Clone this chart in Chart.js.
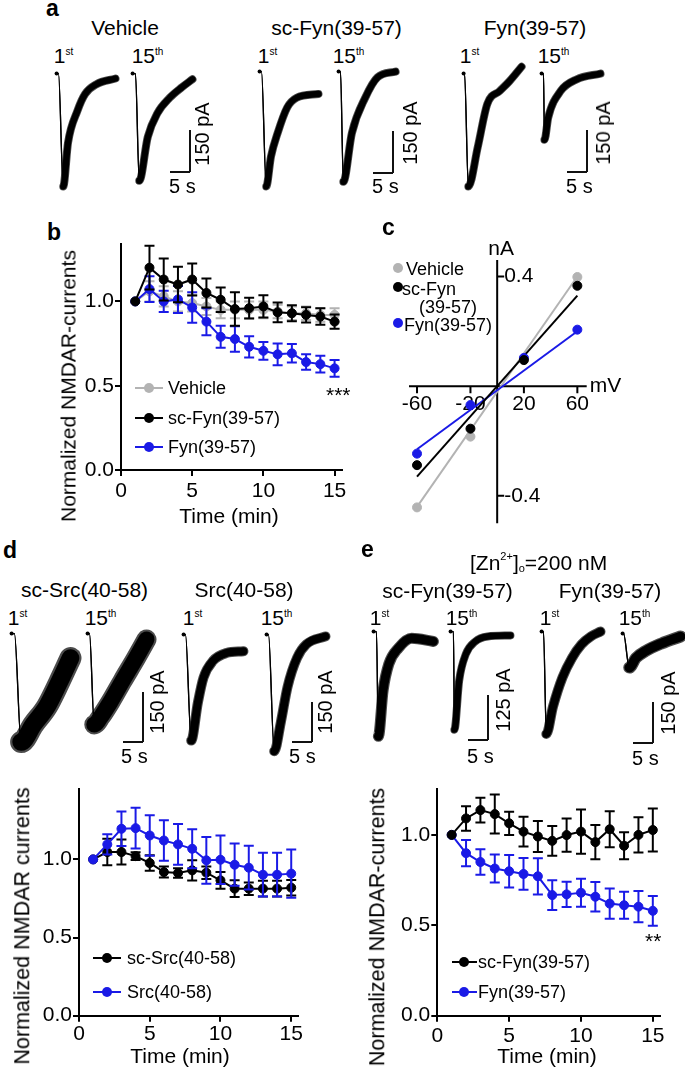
<!DOCTYPE html>
<html><head><meta charset="utf-8"><title>NMDAR currents</title>
<script src="https://cdn.jsdelivr.net/npm/chart.js@4.4.1/dist/chart.umd.min.js"></script>
<style>
html,body{margin:0;padding:0;background:#fff}
body{position:relative;width:685px;height:1072px;overflow:hidden;font-family:"Liberation Sans",Arial,Helvetica,sans-serif;color:#000}
.t{position:absolute;white-space:nowrap}
.sb{position:absolute;background:#111}
.lg{position:absolute}
canvas{position:absolute}
</style></head><body>
<script>
// ---------------- DATA ----------------
const timeMin = [1,2,3,4,5,6,7,8,9,10,11,12,13,14,15];
const timeTicks = [0,5,10,15];
const normTicks = [0,0.5,1.0];

// panel b
const bVehicle    = [1.0,1.06,1.03,1.0,0.99,0.97,0.95,0.95,0.95,0.95,0.94,0.93,0.93,0.92,0.92];
const bVehicleErr = [0,0.06,0.06,0.06,0.05,0.05,0.05,0.05,0.05,0.05,0.04,0.04,0.04,0.04,0.04];
const bScFyn      = [1.0,1.20,1.13,1.10,1.13,1.05,1.01,0.955,0.96,0.97,0.935,0.93,0.92,0.91,0.88];
const bScFynErr   = [0,0.13,0.125,0.105,0.095,0.086,0.073,0.10,0.062,0.066,0.059,0.047,0.045,0.049,0.042];
const bFyn        = [1.0,1.073,1.0,1.012,0.964,0.88,0.79,0.777,0.731,0.707,0.686,0.692,0.64,0.628,0.603];
const bFynErr     = [0,0.077,0.063,0.08,0.09,0.08,0.065,0.075,0.063,0.053,0.065,0.055,0.046,0.05,0.05];

// panel c (I-V)
const cVoltage   = [-60,-20,20,60];
const cVehicle   = [-0.442,-0.184,0.10,0.398];
const cScFyn     = [-0.288,-0.155,0.095,0.366];
const cFyn       = [-0.246,-0.069,0.103,0.206];
const cFitVoltage  = [-60,60];
const cVehicleFit  = [-0.44,0.40];
const cScFynFit    = [-0.33,0.33];
const cFynFit      = [-0.23,0.20];
const cXTicks = [-60,-20,20,60];
const cYTicks = [-0.4,0.4];

// panel d
const dScSrc    = [1.0,1.047,1.047,1.021,0.977,0.919,0.913,0.93,0.915,0.866,0.813,0.813,0.813,0.813,0.819];
const dScSrcErr = [0,0.085,0.08,0.025,0.05,0.035,0.03,0.065,0.04,0.053,0.053,0.04,0.05,0.05,0.05];
const dSrc      = [1.0,1.096,1.196,1.2,1.153,1.121,1.096,1.068,0.994,0.998,0.966,0.947,0.902,0.902,0.909];
const dSrcErr   = [0,0.065,0.11,0.13,0.13,0.13,0.13,0.125,0.15,0.155,0.135,0.14,0.14,0.14,0.155];

// panel e
const eScFyn    = [1.0,1.091,1.137,1.115,1.064,1.018,0.991,0.967,0.999,1.018,0.96,1.031,0.94,1.0,1.027];
const eScFynErr = [0,0.068,0.068,0.108,0.064,0.082,0.086,0.082,0.092,0.123,0.095,0.1,0.075,0.097,0.119];
const eFyn      = [1.0,0.899,0.85,0.814,0.799,0.784,0.771,0.667,0.671,0.68,0.658,0.62,0.611,0.603,0.58];
const eFynErr   = [0,0.073,0.071,0.077,0.09,0.088,0.1,0.082,0.07,0.078,0.082,0.084,0.075,0.086,0.082];

// current traces (time in s, current in pA, relative to holding level)
const traceA_vehicle1_s   = [0,0.5,1.75,3.0,5.5,7.5,10.5,15.5];
const traceA_vehicle1_pA  = [0,0,-414,-254,-136,-75,-39,-18];
const traceA_vehicle15_s  = [0,0.75,1.75,4.0,6.5,9.75,13.0,15.75];
const traceA_vehicle15_pA = [0,0,-393,-232,-146,-89,-50,-21];
const traceA_scFyn1_s     = [0,0.5,1.75,3.0,4.75,7.25,9.75,15.5];
const traceA_scFyn1_pA    = [0,0,-421,-311,-225,-132,-96,-82];
const traceA_scFyn15_s    = [0,0.5,1.25,3.5,7.0,10.25,15.0];
const traceA_scFyn15_pA   = [0,0,-404,-225,-96,-21,0];
const traceA_fyn1_s       = [0,0.25,1.25,3.75,6.25,9.5,12.0,15.25];
const traceA_fyn1_pA      = [0,0,-414,-268,-111,-64,-29,25];
const traceA_fyn15_s      = [0,0.5,0.75,1.75,5.0,9.25,15.5];
const traceA_fyn15_pA     = [0,0,-243,-161,-64,-21,0];

const traceD_scSrc1_s   = [0,0.75,2.5,5.75,9.25,12.5,15.5];
const traceD_scSrc1_pA  = [0,0,-333,-279,-225,-150,-75];
const traceD_scSrc15_s  = [0,0.5,1.75,3.5,6.0,9.25,12.75,15.5];
const traceD_scSrc15_pA = [0,0,-279,-255,-210,-144,-75,-18];
const traceD_src1_s     = [0,0.5,2.0,3.75,5.25,7.75,11.25,15.75];
const traceD_src1_pA    = [0,0,-408,-262,-165,-101,-71,-64];
const traceD_src15_s    = [0,0.5,2.0,3.75,5.5,8.0,10.5,15.5];
const traceD_src15_pA   = [0,0,-449,-337,-202,-90,-37,-7];

const traceE_scFyn1_s   = [0,0.75,1.25,2.5,4.0,6.5,10.0,15.75];
const traceE_scFyn1_pA  = [0,0,-297,-167,-92,-47,-19,-28];
const traceE_scFyn15_s  = [0,0.75,1.0,2.25,4.0,6.5,9.75,15.75];
const traceE_scFyn15_pA = [0,0,-278,-139,-64,-28,-14,-11];
const traceE_fyn1_s     = [0,0.5,1.25,3.0,5.5,8.0,10.5,13.0,15.5];
const traceE_fyn1_pA    = [0,0,-385,-282,-172,-99,-48,-18,0];
const traceE_fyn15_s    = [0,0.25,1.75,3.5,6.0,10.25,15.25];
const traceE_fyn15_pA   = [0,0,-128,-92,-66,-37,-11];

const scaleBarSeconds = 5;

// ---------------- STYLE / HELPERS ----------------
const FONT = '"Liberation Sans", Arial, Helvetica, sans-serif';
const BLUE = '#1a1ae6', GRAY = '#b3b3b3', BLACK = '#000000';
Chart.defaults.font.family = FONT;
Chart.defaults.color = '#000';

function el(tag, cls, css) {
  const d = document.createElement(tag);
  if (cls) d.className = cls;
  Object.assign(d.style, css || {});
  document.body.appendChild(d);
  return d;
}
function txt(html, x, base, size, o = {}) {
  const d = el('div', 't', {fontSize: size + 'px', lineHeight: size + 'px',
    top: (base - 0.8465 * size) + 'px', left: x + 'px'});
  if (o.center) d.style.transform = 'translateX(-50%)';
  if (o.bold) d.style.fontWeight = 'bold';
  d.innerHTML = html;
  return d;
}
function rtxt(s, cx, cy, size) {
  const d = el('div', 't', {fontSize: size + 'px', lineHeight: size + 'px', left: cx + 'px', top: cy + 'px',
    transform: 'translate(-50%,-50%) rotate(-90deg)'});
  d.textContent = s;
}
function ord(main, sup, left, base) {
  txt(main + '<span style="font-size:10px;line-height:10px;position:relative;top:-8px">' + sup + '</span>', left, base, 21);
}
function scaleBar(cx, cy, kx, ky, pA) {
  const h = pA * ky, w = scaleBarSeconds * kx;
  el('div', 'sb', {left: (cx - 1) + 'px', top: (cy - h) + 'px', width: '2px', height: h + 'px'});
  el('div', 'sb', {left: (cx - w) + 'px', top: (cy - 1) + 'px', width: w + 'px', height: '2px'});
}
function legendMark(x1, x2, cx, cy, color) {
  if (x2 > x1) el('div', 'lg', {left: x1 + 'px', top: (cy - 1) + 'px', width: (x2 - x1) + 'px', height: '2px', background: color});
  el('div', 'lg', {left: (cx - 5) + 'px', top: (cy - 5) + 'px', width: '10px', height: '10px', borderRadius: '50%', background: color});
}
function canvasAt(left, top, w, h) {
  const cv = el('canvas', null, {left: left + 'px', top: top + 'px'});
  cv.width = w; cv.height = h;
  return cv;
}

// electrophysiology trace drawn on its own linear s / pA scales.
// A dark core plus a thin softer fringe imitates the noise band of the recording.
function trace(x0, y0, kx, ky, ts, ps, w) {
  const left = Math.round(x0 - 2 * kx), top = Math.round(y0 - 60 * ky);
  const W = Math.round(20 * kx), H = Math.round(560 * ky);
  const cv = canvasAt(left, top, W, H);
  const xmin = -(x0 - left) / kx, ymax = (y0 - top) / ky;
  const pts = ts.map((t, k) => ({x: t, y: ps[k]}));
  const layer = (width, color, dot) => ({
    data: pts, borderColor: color, backgroundColor: '#000', borderWidth: width,
    pointRadius: c => (dot && c.dataIndex === 0) ? 2 : 0, pointBorderWidth: 0, pointHoverRadius: 0,
    cubicInterpolationMode: 'monotone', borderCapStyle: 'round', borderJoinStyle: 'round', clip: false,
    segment: {borderWidth: c => c.p0DataIndex < 2 ? 1.3 : width,
              borderColor: c => c.p0DataIndex < 2 ? '#000' : color}
  });
  new Chart(cv, {
    type: 'line',
    data: {datasets: [layer(Math.max(2, w * 0.8), '#000', true), layer(w, 'rgba(0,0,0,0.7)', false)]},
    options: {responsive: false, animation: false, events: [], layout: {padding: 0},
      plugins: {legend: {display: false}, tooltip: {enabled: false}},
      scales: {x: {type: 'linear', display: false, min: xmin, max: xmin + W / kx},
               y: {type: 'linear', display: false, min: ymax - H / ky, max: ymax}}}
  });
}

// error bars through the y scale
const errorBars = {
  id: 'errorBars',
  beforeDatasetDraw(chart, args) {
    const ds = chart.data.datasets[args.index];
    if (!ds.err) return;
    const ys = chart.scales.y, ctx = chart.ctx;
    ctx.save();
    ctx.strokeStyle = ds.borderColor; ctx.lineWidth = 2;
    ctx.beginPath();
    args.meta.data.forEach((pt, k) => {
      const e = ds.err[k]; if (!e) return;
      const v = ds.data[k].y;
      const yt = ys.getPixelForValue(v + e), yb = ys.getPixelForValue(v - e), x = pt.x;
      ctx.moveTo(x, yt); ctx.lineTo(x, yb);
      ctx.moveTo(x - 5, yt); ctx.lineTo(x + 5, yt);
      ctx.moveTo(x - 5, yb); ctx.lineTo(x + 5, yb);
    });
    ctx.stroke();
    ctx.restore();
  }
};

function timeChart(c) {
  const cv = canvasAt(c.left, c.top, c.width, c.height);
  const axisGrid = {display: true, drawOnChartArea: false, drawTicks: true, tickLength: 6, color: '#000', lineWidth: 2, tickWidth: 2};
  const border = {display: true, color: '#000', width: 2};
  new Chart(cv, {
    type: 'line',
    data: {datasets: c.series.map(s => ({
      data: timeMin.map((t, k) => ({x: t, y: s.values[k]})), err: s.err,
      borderColor: s.color, backgroundColor: s.color, pointBackgroundColor: s.color, pointBorderColor: s.color,
      pointRadius: 4.5, pointBorderWidth: 1, pointHoverRadius: 0, borderWidth: 2, tension: 0, clip: false
    }))},
    options: {responsive: false, animation: false, events: [],
      layout: {padding: {top: c.padTop, right: c.padRight, left: 0, bottom: 0}},
      plugins: {legend: {display: false}, tooltip: {enabled: false}},
      scales: {
        x: {type: 'linear', min: 0, max: 15.5, grid: axisGrid, border,
            afterBuildTicks: s => { s.ticks = timeTicks.map(v => ({value: v})); },
            afterFit: s => { s.height = c.xh; },
            ticks: {font: {size: 21}, padding: c.xPad, maxRotation: 0, autoSkip: false, callback: v => String(v)}},
        y: {type: 'linear', min: 0, max: c.ymax, grid: axisGrid, border,
            afterBuildTicks: s => { s.ticks = normTicks.map(v => ({value: v})); },
            afterFit: s => { s.width = c.yw; },
            ticks: {font: {size: 21}, padding: 1, autoSkip: false, callback: v => Number(v).toFixed(1)}}
      }},
    plugins: [errorBars]
  });
}

// ---------------- PANEL a ----------------
txt('a', 46, 16, 23, {bold: true});
txt('Vehicle', 125, 35, 21, {center: true});
txt('sc-Fyn(39-57)', 336.5, 35, 21, {center: true});
txt('Fyn(39-57)', 535, 35, 21, {center: true});
ord('1', 'st', 53.7, 63); ord('15', 'th', 131.7, 63);
ord('1', 'st', 257.7, 63); ord('15', 'th', 332.7, 63);
ord('1', 'st', 459.7, 63); ord('15', 'th', 537.7, 63);
trace(55, 72, 4, 0.28, traceA_vehicle1_s, traceA_vehicle1_pA, 8);
trace(131, 72, 4, 0.28, traceA_vehicle15_s, traceA_vehicle15_pA, 8);
trace(258, 70, 4, 0.28, traceA_scFyn1_s, traceA_scFyn1_pA, 8);
trace(337, 70, 4, 0.28, traceA_scFyn15_s, traceA_scFyn15_pA, 8);
trace(462, 72, 4, 0.28, traceA_fyn1_s, traceA_fyn1_pA, 8);
trace(540, 72, 4, 0.28, traceA_fyn15_s, traceA_fyn15_pA, 8);
scaleBar(190, 172, 4, 0.28, 150); scaleBar(393, 173, 4, 0.28, 150); scaleBar(587, 172, 4, 0.28, 150);
rtxt('150 pA', 202, 133.5, 20); rtxt('150 pA', 409.5, 133, 20); rtxt('150 pA', 602.5, 133, 20);
txt('5 s', 169, 192.5, 20); txt('5 s', 372, 192.5, 20); txt('5 s', 566, 192.5, 20);

// ---------------- PANEL b ----------------
txt('b', 47, 240, 23, {bold: true});
timeChart({left: 40, top: 230, width: 320, height: 305, yw: 81, xh: 65, padTop: 13, padRight: 18.3, ymax: 1.343, xPad: 3,
  series: [{values: bScFyn, err: bScFynErr, color: BLACK}, {values: bFyn, err: bFynErr, color: BLUE}, {values: bVehicle, err: bVehicleErr, color: GRAY}]});
rtxt('Normalized NMDAR-currents', 68, 386, 21);
txt('Time (min)', 229, 523, 21, {center: true});
txt('***', 326, 402, 21);
legendMark(135, 163, 149, 388, GRAY);  txt('Vehicle', 168, 394.4, 18);
legendMark(135, 163, 149, 418, BLACK); txt('sc-Fyn(39-57)', 168, 424.4, 18);
legendMark(135, 163, 149, 447, BLUE);  txt('Fyn(39-57)', 168, 453.4, 18);

// ---------------- PANEL c ----------------
txt('c', 382, 235, 23, {bold: true});
const axesC = {
  id: 'axesC',
  beforeDatasetsDraw(chart) {
    const {ctx, scales: {x, y}, chartArea: a} = chart;
    const x0 = x.getPixelForValue(0), y0 = y.getPixelForValue(0);
    ctx.save();
    ctx.strokeStyle = '#000'; ctx.lineWidth = 2;
    ctx.beginPath();
    ctx.moveTo(a.left, y0); ctx.lineTo(a.right, y0);
    ctx.moveTo(x0, a.top); ctx.lineTo(x0, a.bottom);
    cXTicks.forEach(v => { const p = x.getPixelForValue(v); ctx.moveTo(p, y0); ctx.lineTo(p, y0 + 7); });
    cYTicks.forEach(v => { const p = y.getPixelForValue(v); ctx.moveTo(x0, p); ctx.lineTo(x0 + 7, p); });
    ctx.stroke();
    ctx.fillStyle = '#000'; ctx.font = '21px ' + FONT; ctx.textBaseline = 'middle';
    ctx.textAlign = 'center';
    cXTicks.forEach(v => ctx.fillText(String(v), x.getPixelForValue(v), y0 + 18));
    ctx.textAlign = 'left';
    cYTicks.forEach(v => ctx.fillText(v.toFixed(1), x0 + 7, y.getPixelForValue(v)));
    ctx.textAlign = 'center'; ctx.fillText('nA', x0 + 4, a.top - 11);
    ctx.textAlign = 'left'; ctx.fillText('mV', a.right + 3, y0);
    ctx.restore();
  }
};
(function () {
  const cv = canvasAt(375, 235, 300, 300);
  const pts = (xs, ys, color) => ({type: 'scatter', data: xs.map((v, k) => ({x: v, y: ys[k]})), showLine: false,
    pointRadius: 4.5, pointBorderWidth: 1, pointBackgroundColor: color, pointBorderColor: color, pointHoverRadius: 0, clip: false});
  const fit = (xs, ys, color) => ({type: 'line', data: xs.map((v, k) => ({x: v, y: ys[k]})), borderColor: color,
    borderWidth: 2, pointRadius: 0, pointHoverRadius: 0, clip: false});
  new Chart(cv, {
    type: 'scatter',
    data: {datasets: [pts(cVoltage, cScFyn, BLACK), pts(cVoltage, cFyn, BLUE), pts(cVoltage, cVehicle, GRAY),
      fit(cFitVoltage, cScFynFit, BLACK), fit(cFitVoltage, cFynFit, BLUE), fit(cFitVoltage, cVehicleFit, GRAY)]},
    options: {responsive: false, animation: false, events: [],
      layout: {padding: {left: 34, top: 25, right: 88.3, bottom: 11.7}},
      plugins: {legend: {display: false}, tooltip: {enabled: false}},
      scales: {x: {type: 'linear', display: false, min: -66, max: 67}, y: {type: 'linear', display: false, min: -0.5, max: 0.46}}},
    plugins: [axesC]
  });
})();
legendMark(0, 0, 398, 268, GRAY);  txt('Vehicle', 406, 275, 18);
legendMark(0, 0, 398, 287, BLACK); txt('sc-Fyn', 402, 295, 18);
txt('(39-57)', 419, 313, 18);
legendMark(0, 0, 398, 323, BLUE);  txt('Fyn(39-57)', 404, 331, 18);

// ---------------- PANEL d ----------------
txt('d', 3, 558, 23, {bold: true});
txt('sc-Src(40-58)', 84.5, 597, 21, {center: true});
txt('Src(40-58)', 244, 597, 21, {center: true});
ord('1', 'st', 7.7, 625); ord('15', 'th', 84.7, 625);
ord('1', 'st', 182.7, 625); ord('15', 'th', 260.7, 625);
trace(10, 632, 4, 0.333, traceD_scSrc1_s, traceD_scSrc1_pA, 22);
trace(86, 632, 4, 0.333, traceD_scSrc15_s, traceD_scSrc15_pA, 20);
trace(182, 633, 4, 0.267, traceD_src1_s, traceD_src1_pA, 10);
trace(265, 633, 4, 0.267, traceD_src15_s, traceD_src15_pA, 10);
scaleBar(143, 742, 4, 0.333, 150); scaleBar(312, 742, 4, 0.267, 150);
rtxt('150 pA', 157, 701.5, 20); rtxt('150 pA', 325, 701.5, 20);
txt('5 s', 121, 763, 20); txt('5 s', 289, 763, 20);
timeChart({left: 0, top: 775, width: 340, height: 297, yw: 79, xh: 56.3, padTop: 13, padRight: 41.7, ymax: 1.453, xPad: 0,
  series: [{values: dSrc, err: dSrcErr, color: BLUE}, {values: dScSrc, err: dScSrcErr, color: BLACK}]});
rtxt('Normalized NMDAR currents', 22.5, 925.5, 21.5);
txt('Time (min)', 180, 1063, 21, {center: true});
legendMark(93, 121, 107, 958, BLACK); txt('sc-Src(40-58)', 127, 964.4, 18);
legendMark(93, 121, 107, 992, BLUE);  txt('Src(40-58)', 127, 998.4, 18);

// ---------------- PANEL e ----------------
txt('e', 361, 557, 23, {bold: true});
txt('[Zn<span style="font-size:11px;line-height:11px;position:relative;top:-10px">2+</span>]<span style="font-size:11px;line-height:11px;position:relative;top:2px">o</span>=200 nM', 470, 570, 21);
txt('sc-Fyn(39-57)', 447.5, 598, 21, {center: true});
txt('Fyn(39-57)', 610, 598, 21, {center: true});
ord('1', 'st', 369.7, 625); ord('15', 'th', 445.7, 625);
ord('1', 'st', 539.7, 625); ord('15', 'th', 618.7, 625);
trace(372, 630, 4, 0.36, traceE_scFyn1_s, traceE_scFyn1_pA, 11);
trace(449, 630, 4, 0.36, traceE_scFyn15_s, traceE_scFyn15_pA, 8);
trace(540, 630, 4, 0.273, traceE_fyn1_s, traceE_fyn1_pA, 10);
trace(621, 632, 4, 0.273, traceE_fyn15_s, traceE_fyn15_pA, 12);
scaleBar(488, 740, 4, 0.36, 125); scaleBar(653, 743, 4, 0.273, 150);
rtxt('125 pA', 502.5, 700, 20); rtxt('150 pA', 667.5, 703, 20);
txt('5 s', 467, 763, 20); txt('5 s', 632, 765, 20);
timeChart({left: 355, top: 775, width: 330, height: 297, yw: 82.3, xh: 56.3, padTop: 11.7, padRight: 25, ymax: 1.256, xPad: 2,
  series: [{values: eScFyn, err: eScFynErr, color: BLACK}, {values: eFyn, err: eFynErr, color: BLUE}]});
rtxt('Normalized NMDAR-currents', 378, 927, 21.5);
txt('Time (min)', 547, 1063, 21, {center: true});
txt('**', 645, 948, 21);
legendMark(452, 477, 464, 962, BLACK); txt('sc-Fyn(39-57)', 478, 968.4, 18);
legendMark(452, 477, 464, 992, BLUE);  txt('Fyn(39-57)', 478, 998.4, 18);
</script>
</body></html>
